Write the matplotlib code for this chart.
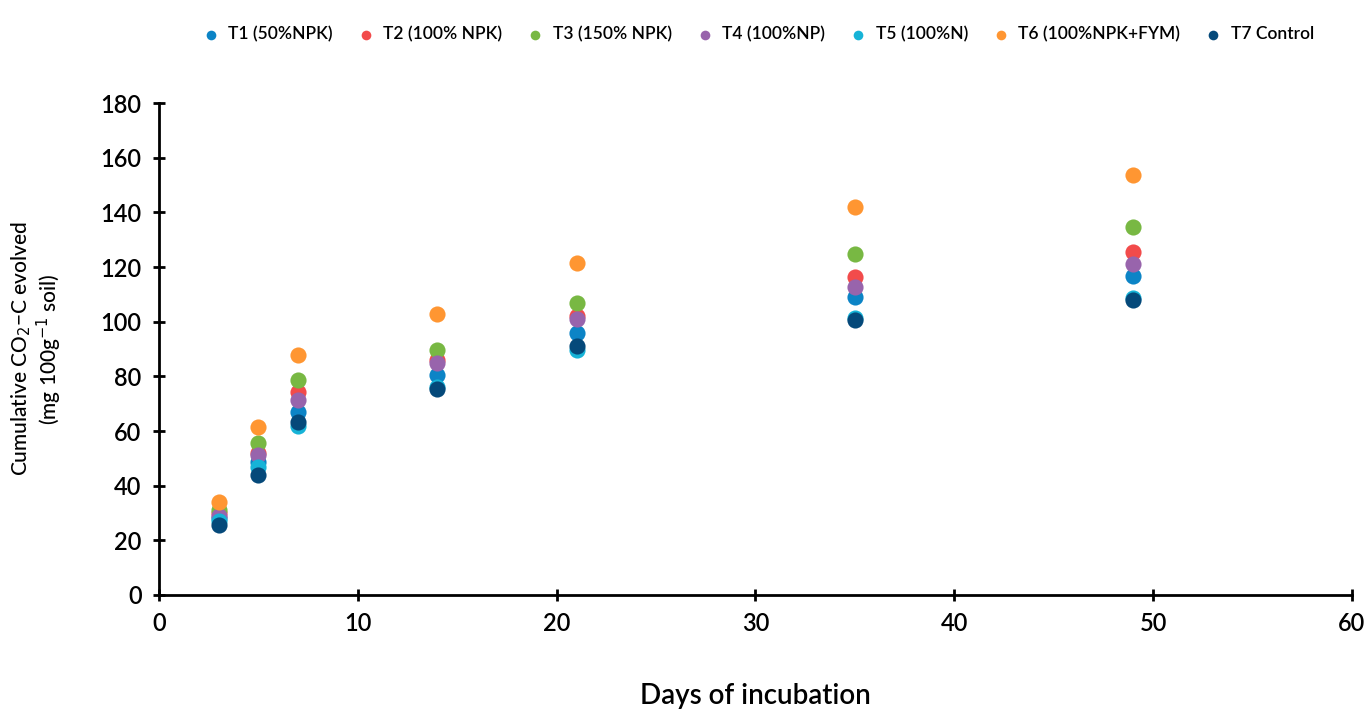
import matplotlib.pyplot as plt

plt.rcParams['font.family'] = ['Lato', 'DejaVu Sans']

# Incubation days and cumulative CO2-C per treatment
days = [3, 5, 7, 14, 21, 35, 49]
labels = ['T1 (50%NPK)', 'T2 (100% NPK)', 'T3 (150% NPK)', 'T4 (100%NP)',
          'T5 (100%N)', 'T6 (100%NPK+FYM)', 'T7 Control']
t1 = [28, 48.8, 67, 80.5, 96, 109.1, 116.7]
t2 = [30, 51.8, 74.4, 86, 102, 116.5, 125.6]
t3 = [31, 55.5, 78.7, 89.6, 106.7, 124.8, 134.5]
t4 = [29, 51.2, 71.3, 84.8, 100.9, 112.8, 121.1]
t5 = [27, 47, 62, 76, 89.6, 101.5, 108.5]
t6 = [34.1, 61.6, 87.8, 102.8, 121.6, 141.9, 153.7]
t7 = [25.6, 43.9, 63.4, 75.3, 91.1, 100.6, 107.9]
series = [t1, t2, t3, t4, t5, t6, t7]
colors = ['#0C84C6', '#F24B4B', '#78B843', '#9864AC', '#16B3D7', '#FF9632', '#05497A']

fig = plt.figure(figsize=(13.68, 7.09), dpi=100)
ax = fig.add_axes([0.1162, 0.1608, 0.8721, 0.6939])

for vals, lab, c in zip(series, labels, colors):
    ax.scatter(days, vals, s=135, color=c, label=lab, linewidths=0, zorder=3)

ax.set_xlim(0, 60)
ax.set_ylim(0, 180)
ax.set_xticks(range(0, 61, 10))
ax.set_yticks(range(0, 181, 20))
for s in ['top', 'right']:
    ax.spines[s].set_visible(False)
for s in ['left', 'bottom']:
    ax.spines[s].set_linewidth(2)
ax.tick_params(direction='inout', length=9, width=2, labelsize=17, pad=8)
for t in ax.get_xticklabels() + ax.get_yticklabels():
    t.set_fontweight('semibold')

ax.set_xlabel('Days of incubation', fontsize=20, fontweight='semibold', labelpad=34)
ax.set_ylabel('Cumulative CO$_2$\u2212C evolved\n(mg 100g$^{-1}$ soil)', fontsize=15,
              fontweight='medium', labelpad=26, linespacing=1.1)

fig.legend(loc='upper center', bbox_to_anchor=(0.551, 0.985), ncol=7, frameon=False,
           markerscale=0.6, handletextpad=0.0, columnspacing=0.9,
           prop={'weight': 'semibold', 'size': 12.5})

fig.savefig('out.png', dpi=100)
